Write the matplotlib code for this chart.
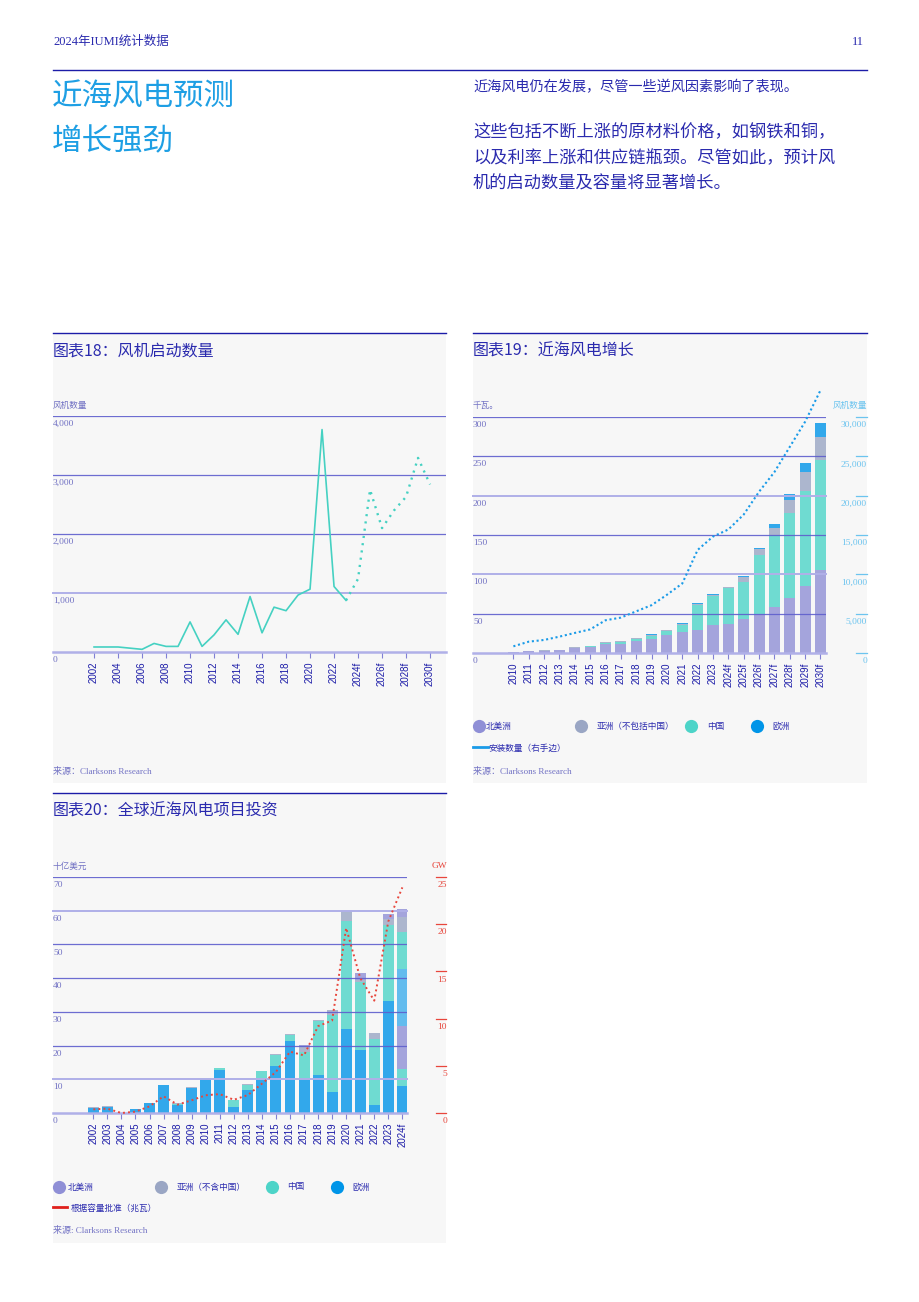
import matplotlib.pyplot as plt
from matplotlib.lines import Line2D
from matplotlib.patches import Rectangle

W, H = 920, 1302
CJK = ['Noto Sans CJK SC', 'DejaVu Sans']
SERIF = ['Liberation Serif', 'Noto Sans CJK SC']
SANS = ['Liberation Sans', 'DejaVu Sans']

NAVY = '#1c1ca8'
TEXT = '#2a2aae'
SKY = '#1e9fe4'
BG = '#f7f7f7'
GRID = '#5e5ecd'
GRID_HEAVY = '#b0b0e8'
MUTED = '#7272c4'
TICKC = '#8080d4'
TEAL = '#45d1c2'
C_NA = '#8f8fd6'
C_ASIA = '#9aa6c4'
C_CN = '#4dd4c8'
C_EU = '#0095e8'
C_EU_LIGHT = '#63bcee'
LINE_BLUE = '#1a9be8'
RED = '#e8463c'
RIGHT_BLUE = '#6cc4ef'

# chart 18 - turbine installations
turb_years = list(range(2002, 2024))
turb_actual = [85, 85, 85, 65, 45, 145, 95, 95, 510, 95, 290, 545, 300, 940,
               325, 760, 700, 965, 1065, 3770, 1110, 875]
turb_fc_years = list(range(2023, 2031))
turb_fc = [875, 1240, 2750, 2100, 2400, 2630, 3290, 2840]
turb_ticks = list(range(2002, 2031, 2))
turb_ticklabels = ['2002', '2004', '2006', '2008', '2010', '2012', '2014', '2016',
                   '2018', '2020', '2022', '2024f', '2026f', '2028f', '2030f']

# chart 19 - offshore wind capacity
cap_years = ['2010', '2011', '2012', '2013', '2014', '2015', '2016', '2017', '2018',
             '2019', '2020', '2021', '2022', '2023', '2024f', '2025f', '2026f',
             '2027f', '2028f', '2029f', '2030f']
cap_na = [1.0, 2.0, 2.5, 3.5, 6.5, 7.8, 12.0, 12.0, 15.5, 18.0, 22.4, 27.0, 29.7,
          35.0, 37.5, 42.7, 50.0, 58.0, 69.8, 85.3, 106.0]
cap_cn = [0, 0.3, 0.3, 0.3, 0.3, 0.5, 0.5, 2.2, 2.2, 3.9, 5.6, 9.0, 31.3, 37.0,
          44.8, 47.8, 74.0, 91.6, 108.2, 120.7, 139.0]
cap_asia = [0.3, 0.5, 0.5, 0.5, 0.5, 0.7, 0.9, 0.8, 1.3, 1.5, 0.9, 1.5, 1.0, 1.7,
            1.7, 5.5, 8.8, 9.9, 16.0, 24.6, 30.0]
cap_eu = [0, 0.2, 0, 0, 0, 0, 0, 0.3, 0, 0.3, 0.4, 0.5, 1.0, 0.8, 0.5, 1.8, 1.2,
          3.9, 7.7, 10.8, 16.8]
installed = [850, 1440, 1660, 2080, 2550, 3000, 4160, 4500, 5300, 6080, 7400, 8840,
             13100, 14800, 15700, 17600, 20500, 23000, 26200, 29400, 33400]

# chart 20 - investment
inv_years = ['2002', '2003', '2004', '2005', '2006', '2007', '2008', '2009', '2010',
             '2011', '2012', '2013', '2014', '2015', '2016', '2017', '2018', '2019',
             '2020', '2021', '2022', '2023', '2024f']
inv_eu = [1.6, 1.8, 0, 1.1, 2.9, 8.2, 2.5, 7.5, 10.0, 12.9, 1.7, 6.7, 9.8, 13.9,
          21.4, 10.3, 11.4, 6.2, 25.0, 18.7, 2.4, 33.3, 8.0]
inv_cn = [0, 0, 0, 0, 0, 0, 0.3, 0, 0.3, 0.3, 2.1, 1.7, 2.6, 3.3, 1.7, 7.9, 15.9,
          23.0, 32.0, 20.3, 19.6, 22.4, 5.0]
inv_na_low = [0] * 22 + [12.8]
inv_eu_light = [0] * 22 + [17.0]
inv_cn_upper = [0] * 22 + [11.0]
inv_asia = [0.2, 0.2, 0, 0.2, 0.2, 0.1, 0.2, 0.2, 0.2, 0.2, 0.2, 0.2, 0.2, 0.2,
            0.4, 1.7, 0.2, 1.3, 3.0, 0.4, 1.6, 1.8, 4.2]
inv_na = [0] * 15 + [0.2, 0, 0, 0, 2.0, 0.2, 1.5, 2.5]
gw_approved = [0.39, 0.46, 0, 0.14, 0.7, 1.77, 0.88, 1.35, 1.88, 2.0, 1.4, 1.9, 3.1,
               4.35, 6.5, 6.1, 9.2, 9.8, 19.6, 14.3, 11.9, 20.3, 23.9]

fig = plt.figure(figsize=(W / 100, H / 100), dpi=100)
fig.patch.set_facecolor('white')


def rect(x0, y0, x1, y1):
    return [x0 / W, 1 - y1 / H, (x1 - x0) / W, (y1 - y0) / H]


def put(x, y, s, size, color=TEXT, ha='left', family=CJK, **kw):
    fig.text(x / W, 1 - y / H, s, fontsize=size, color=color, ha=ha, va='center',
             family=family, **kw)


def hline(x0, x1, y, color=NAVY, lw=1.0):
    fig.add_artist(Line2D([x0 / W, x1 / W], [1 - y / H, 1 - y / H], color=color, lw=lw))


def panel(x0, y0, x1, y1):
    fig.add_artist(Rectangle((x0 / W, 1 - y1 / H), (x1 - x0) / W, (y1 - y0) / H,
                             facecolor=BG, edgecolor='none', zorder=-1))
    hline(x0, x1, y0)


def dot(x, y, color):
    fig.add_artist(Line2D([x / W], [1 - y / H], marker='o', markersize=9.5,
                          color=color, markeredgewidth=0))


def bare(ax):
    ax.set_facecolor('none')
    for s in ax.spines.values():
        s.set_visible(False)
    ax.set_yticks([])


def grid(ax, levels, heavy):
    for v in levels:
        if v in heavy:
            ax.axhline(v, color=GRID_HEAVY, lw=1.4, zorder=4, clip_on=False)
        else:
            ax.axhline(v, color=GRID, lw=0.9, zorder=4, alpha=0.9)
    ax.axhline(0, color=GRID_HEAVY, lw=1.8, zorder=4, clip_on=False)


def left_labels(ax, levels, fmt):
    for v in levels:
        ax.annotate(fmt(v), (0, v), xycoords=('axes fraction', 'data'), xytext=(0, -3),
                    textcoords='offset points', ha='left', va='top', fontsize=6.8,
                    color=MUTED, family=SERIF)


def xlabels(ax, pos, labels):
    ax.set_xticks(pos, labels, rotation=90, fontsize=7, family=SANS, color=NAVY)
    ax.tick_params(axis='x', length=4, width=0.8, color=TICKC, pad=3)


# ---- header ----
put(53, 42, '2024年IUMI统计数据', 9, family=SERIF)
put(864, 42, '11', 9, ha='right', family=SERIF)
hline(53, 867, 70)
put(52, 97, '近海风电预测', 22, color=SKY, weight='light')
put(52, 142, '增长强劲', 22, color=SKY, weight='light')
put(473, 87, '近海风电仍在发展，尽管一些逆风因素影响了表现。', 10.2)
put(473, 132, '这些包括不断上涨的原材料价格，如钢铁和铜，', 12.4)
put(473, 158, '以及利率上涨和供应链瓶颈。尽管如此，预计风', 12.4)
put(473, 184, '机的启动数量及容量将显著增长。', 12.4)

# ---- chart 18 ----
panel(53, 333, 446, 783)
put(53, 351, '图表18：风机启动数量', 11.5)
put(53, 405, '风机数量', 6.2, color=MUTED)
ax1 = fig.add_axes(rect(53, 416, 446, 652))
bare(ax1)
ax1.set_xlim(1998.58, 2031.33)
ax1.set_ylim(0, 4000)
grid(ax1, [1000, 2000, 3000, 4000], heavy=[1000])
left_labels(ax1, [0, 1000, 2000, 3000, 4000], lambda v: f'{v:,}')
ax1.plot(turb_years, turb_actual, color=TEAL, lw=1.2, zorder=5)
ax1.plot(turb_fc_years, turb_fc, color=TEAL, lw=1.7, ls=(0, (0.9, 2.2)), zorder=5)
xlabels(ax1, turb_ticks, turb_ticklabels)
put(53, 771, '来源：Clarksons Research', 6.5, color=MUTED, family=SERIF)

# ---- chart 19 ----
panel(473, 333, 867, 783)
put(473, 351, '图表19：近海风电增长', 11.5)
put(473, 405, '千瓦。', 6.2, color=MUTED)
put(867, 405, '风机数量', 6.2, color=RIGHT_BLUE, ha='right')
ax2 = fig.add_axes(rect(473, 417, 826, 653))
bare(ax2)
ax2.set_xlim(-2.63, 20.36)
ax2.set_ylim(0, 300)
x2 = list(range(len(cap_years)))
bottom = [0] * len(x2)
for vals, col in [(cap_na, C_NA), (cap_cn, C_CN), (cap_asia, C_ASIA), (cap_eu, C_EU)]:
    ax2.bar(x2, vals, 0.72, bottom=bottom, color=col, alpha=0.8, lw=0, zorder=2)
    bottom = [b + v for b, v in zip(bottom, vals)]
grid(ax2, [50, 100, 150, 200, 250, 300], heavy=[100, 200])
left_labels(ax2, [0, 50, 100, 150, 200, 250, 300], str)
xlabels(ax2, x2, cap_years)
ax2b = ax2.twinx()
bare(ax2b)
ax2b.set_ylim(0, 30000)
ax2b.plot(x2, installed, color=LINE_BLUE, lw=1.5, ls=(0, (1, 1.3)), clip_on=False, zorder=6)
axr = fig.add_axes(rect(856, 417, 867, 653))
axr.axis('off')
axr.set_ylim(0, 30000)
for v in range(0, 30001, 5000):
    axr.axhline(v, color=RIGHT_BLUE, lw=0.9, clip_on=False)
    axr.annotate(f'{v:,}', (1, v), xycoords=('axes fraction', 'data'), xytext=(0, -3),
                 textcoords='offset points', ha='right', va='top', fontsize=6.8,
                 color=RIGHT_BLUE, family=SERIF)
for cx, tx, lab, col in [(479, 486, '北美洲', C_NA), (581, 597, '亚洲（不包括中国）', C_ASIA),
                         (691, 707, '中国', C_CN), (757, 772, '欧洲', C_EU)]:
    dot(cx, 726, col)
    put(tx, 726, lab, 6.2)
hline(473, 488, 747, color=LINE_BLUE, lw=2)
put(488, 748, '安装数量（右手边）', 6.2)
put(473, 771, '来源：Clarksons Research', 6.5, color=MUTED, family=SERIF)

# ---- chart 20 ----
panel(53, 793, 446, 1243)
put(53, 811, '图表20：全球近海风电项目投资', 11.5)
put(53, 866, '十亿美元', 6.2, color=MUTED)
put(447, 866, 'GW', 6.8, color=RED, ha='right', family=SERIF)
ax3 = fig.add_axes(rect(53, 877, 407, 1113))
bare(ax3)
ax3.set_xlim(-2.87, 22.33)
ax3.set_ylim(0, 70)
x3 = list(range(len(inv_years)))
bottom = [0] * len(x3)
layers = [(inv_eu, C_EU), (inv_cn, C_CN), (inv_na_low, C_NA), (inv_eu_light, C_EU_LIGHT),
          (inv_cn_upper, C_CN), (inv_asia, C_ASIA), (inv_na, C_NA)]
for vals, col in layers:
    a = 1.0 if col == C_EU_LIGHT else 0.8
    ax3.bar(x3, vals, 0.78, bottom=bottom, color=col, alpha=a, lw=0, zorder=2)
    bottom = [b + v for b, v in zip(bottom, vals)]
grid(ax3, [10, 20, 30, 40, 50, 60, 70], heavy=[10, 60])
left_labels(ax3, [0, 10, 20, 30, 40, 50, 60, 70], str)
xlabels(ax3, x3, inv_years)
ax3b = ax3.twinx()
bare(ax3b)
ax3b.set_ylim(0, 25)
ax3b.plot(x3, gw_approved, color=RED, lw=1.4, ls=(0, (1, 1.6)), clip_on=False, zorder=6)
axg = fig.add_axes(rect(436, 877, 446, 1113))
axg.axis('off')
axg.set_ylim(0, 25)
for v in range(0, 26, 5):
    axg.axhline(v, color=RED, lw=0.9, clip_on=False)
    axg.annotate(str(v), (1.1, v), xycoords=('axes fraction', 'data'), xytext=(0, -3),
                 textcoords='offset points', ha='right', va='top', fontsize=6.8,
                 color=RED, family=SERIF)
for cx, tx, lab, col in [(59, 68, '北美洲', C_NA), (161, 177, '亚洲（不含中国）', C_ASIA),
                         (272, 287, '中国', C_CN), (337, 352, '欧洲', C_EU)]:
    dot(cx, 1187, col)
    put(tx, 1187, lab, 6.2)
hline(53, 67, 1207, color='#e0201c', lw=2)
put(71, 1208, '根据容量批准（兆瓦）', 6.2)
put(53, 1231, '来源: Clarksons Research', 6.5, color=MUTED, family=SERIF)

fig.savefig('out.png', dpi=100)
